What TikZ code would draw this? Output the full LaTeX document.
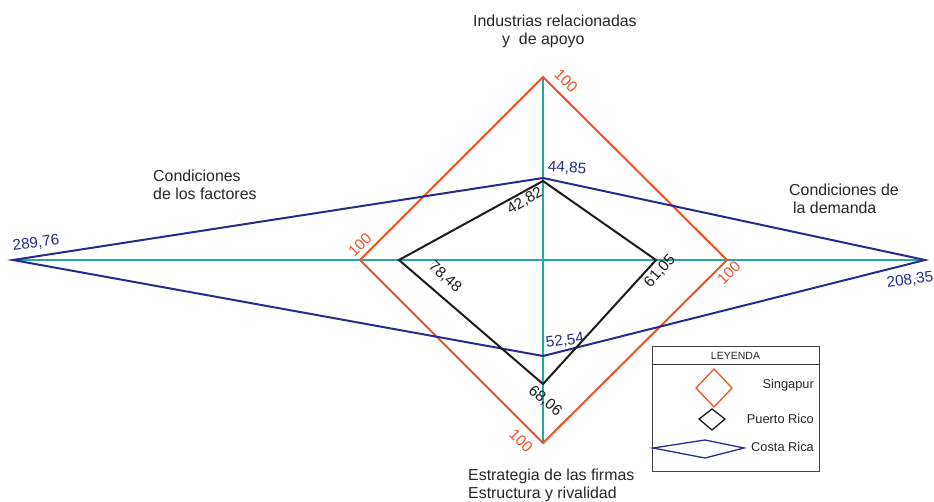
\documentclass[tikz,border=0pt]{standalone}
\usepackage{fontspec}
\setmainfont{Liberation Sans}
\usetikzlibrary{positioning}
\definecolor{singcol}{RGB}{238,82,40}
\definecolor{costacol}{RGB}{38,44,140}
\definecolor{axiscol}{RGB}{38,168,160}
\definecolor{prcol}{RGB}{28,28,28}
\tikzset{
	axis/.style={draw=axiscol,line width=1.1pt},
	sing/.style={draw=singcol,line width=2pt},
	costa/.style={draw=costacol,line width=2pt},
	prico/.style={draw=prcol,line width=2pt},
	val/.style={font=\fontsize{15.3}{15.3}\selectfont,inner sep=0pt},
	title/.style={font=\fontsize{15.9}{18}\selectfont,align=left,inner sep=0pt,text=black!85,anchor=base west},
	keytext/.style={font=\fontsize{12.8}{12.8}\selectfont,inner sep=0pt,text=black!85,anchor=east}
}
\begin{document}
\begin{tikzpicture}[x=1pt,y=-1pt]
	\useasboundingbox (0,0) rectangle (934,501);
	\coordinate (sing_top) at (543,77);
	\coordinate (sing_right) at (727,260);
	\coordinate (sing_bottom) at (543,443);
	\coordinate (sing_left) at (360,260);
	\coordinate (cr_top) at (543,178);
	\coordinate (cr_right) at (925,260);
	\coordinate (cr_bottom) at (543,356);
	\coordinate (cr_left) at (13,260);
	\coordinate (pr_top) at (543,181);
	\coordinate (pr_right) at (656,260);
	\coordinate (pr_bottom) at (543,384);
	\coordinate (pr_left) at (399,260);

	\draw[axis] (cr_left) -- (cr_right);
	\draw[axis] (sing_top) -- (sing_bottom);
	\draw[sing] (sing_top) -- (sing_right) -- (sing_bottom) -- (sing_left) -- cycle;
	\draw[costa] (cr_top) -- (cr_right) -- (cr_bottom) -- (cr_left) -- cycle;
	\draw[prico] (pr_top) -- (pr_right) -- (pr_bottom) -- (pr_left) -- cycle;

	\node[val,text=singcol,rotate=-45] (sing_top_val) at (566,81) {100};
	\node[val,text=singcol,rotate=45] (sing_left_val) at (360,245) {100};
	\node[val,text=singcol,rotate=45] (sing_right_val) at (729,273) {100};
	\node[val,text=singcol,rotate=-45] (sing_bottom_val) at (521,441) {100};
	\node[val,text=costacol,rotate=-4] (cr_top_val) at (567,168) {44,85};
	\node[val,text=costacol,rotate=7] (cr_left_val) at (36,243) {289,76};
	\node[val,text=costacol,rotate=7] (cr_right_val) at (910,280) {208,35};
	\node[val,text=costacol,rotate=8] (cr_bottom_val) at (565,341) {52,54};
	\node[val,text=prcol,rotate=30] (pr_top_val) at (525,201) {42,82};
	\node[val,text=prcol,rotate=-42] (pr_left_val) at (445,277) {78,48};
	\node[val,text=prcol,rotate=48] (pr_right_val) at (660,271) {61,05};
	\node[val,text=prcol,rotate=-40] (pr_bottom_val) at (545,401) {68,06};

	\node[title] (industrias) at (473,44) {Industrias relacionadas\\\hspace*{29pt}y\ \ de apoyo};
	\node[title] (factores) at (153,199) {Condiciones\\de los factores};
	\node[title] (demanda) at (789,213) {Condiciones de\\\hspace*{4pt}la demanda};
	\node[title] (estrategia) at (468,498) {Estrategia de las firmas\\Estructura y rivalidad};

	\draw[line width=0.9pt,draw=black!75] (652,346) rectangle (819,471);
	\draw[line width=0.9pt,draw=black!75] (652,364) -- (819,364);
	\node[font=\fontsize{10.5}{10.5}\selectfont,inner sep=0pt,text=black!85] (leyenda) at (735.5,355.5) {LEYENDA};
	\draw[sing,line width=1.3pt] (714,369) -- (732,388) -- (714,407) -- (696,388) -- cycle;
	\draw[prico,line width=1.3pt] (712,409) -- (725,419) -- (712,430) -- (699,419) -- cycle;
	\draw[costa,line width=1.3pt] (705,440) -- (744,448) -- (705,458) -- (653,448) -- cycle;
	\node[keytext] (singapur_key) at (814,385) {Singapur};
	\node[keytext] (prico_key) at (814,419) {Puerto Rico};
	\node[keytext] (costa_key) at (814,447) {Costa Rica};
\end{tikzpicture}
\end{document}
